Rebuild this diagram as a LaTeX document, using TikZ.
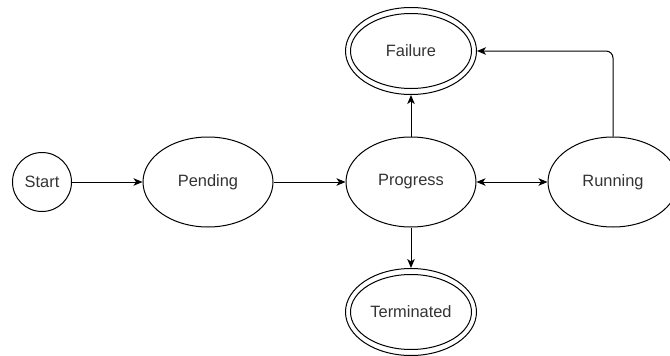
\documentclass[tikz,border=0pt]{standalone}
\usepackage{fontspec}
\setmainfont{Liberation Sans}
\usetikzlibrary{shapes.geometric,arrows.meta}
\begin{document}
\begin{tikzpicture}[x=1pt,y=-1pt,
  state/.style={ellipse,draw,line width=1pt,inner sep=0pt,minimum width=130pt,minimum height=90pt,
    font=\fontsize{16.4pt}{19pt}\selectfont,text=black!80},
  final/.style={ellipse,draw,line width=1pt,inner sep=0pt,minimum width=131pt,minimum height=87pt,
    font=\fontsize{16.4pt}{19pt}\selectfont,text=black!80},
  startstate/.style={circle,draw,line width=1pt,inner sep=0pt,minimum size=59pt,
    font=\fontsize{16.4pt}{19pt}\selectfont,text=black!80},
  conn/.style={draw,line width=1pt,-{Stealth[length=9pt,width=7.5pt,inset=2.5pt]}},
  conn2/.style={draw,line width=1pt,{Stealth[length=9pt,width=7.5pt,inset=2.5pt]}-{Stealth[length=9pt,width=7.5pt,inset=2.5pt]}}]
\useasboundingbox (0,0) rectangle (670,356);
\fill[white] (0,0) rectangle (670,356);
\node[startstate] (s) at (42,182) {Start};
\node[state] (p) at (208,182) {Pending};
\node[state] (g) at (411,182) {Progress};
\node[state] (r) at (613,182) {Running};
\node[final] (f) at (411,51) {Failure};
\node[final] (t) at (411,312) {Terminated};
\draw[line width=1pt] (f.center) ellipse (60.5pt and 37.5pt);
\draw[line width=1pt] (t.center) ellipse (60.5pt and 37.5pt);
\draw[conn] (s) -- (p);
\draw[conn] (p) -- (g);
\draw[conn2] (g) -- (r);
\draw[conn] (g) -- (f);
\draw[conn] (g) -- (t);
\draw[conn,rounded corners=7pt] (r.north) |- (f.east);
\end{tikzpicture}
\end{document}
